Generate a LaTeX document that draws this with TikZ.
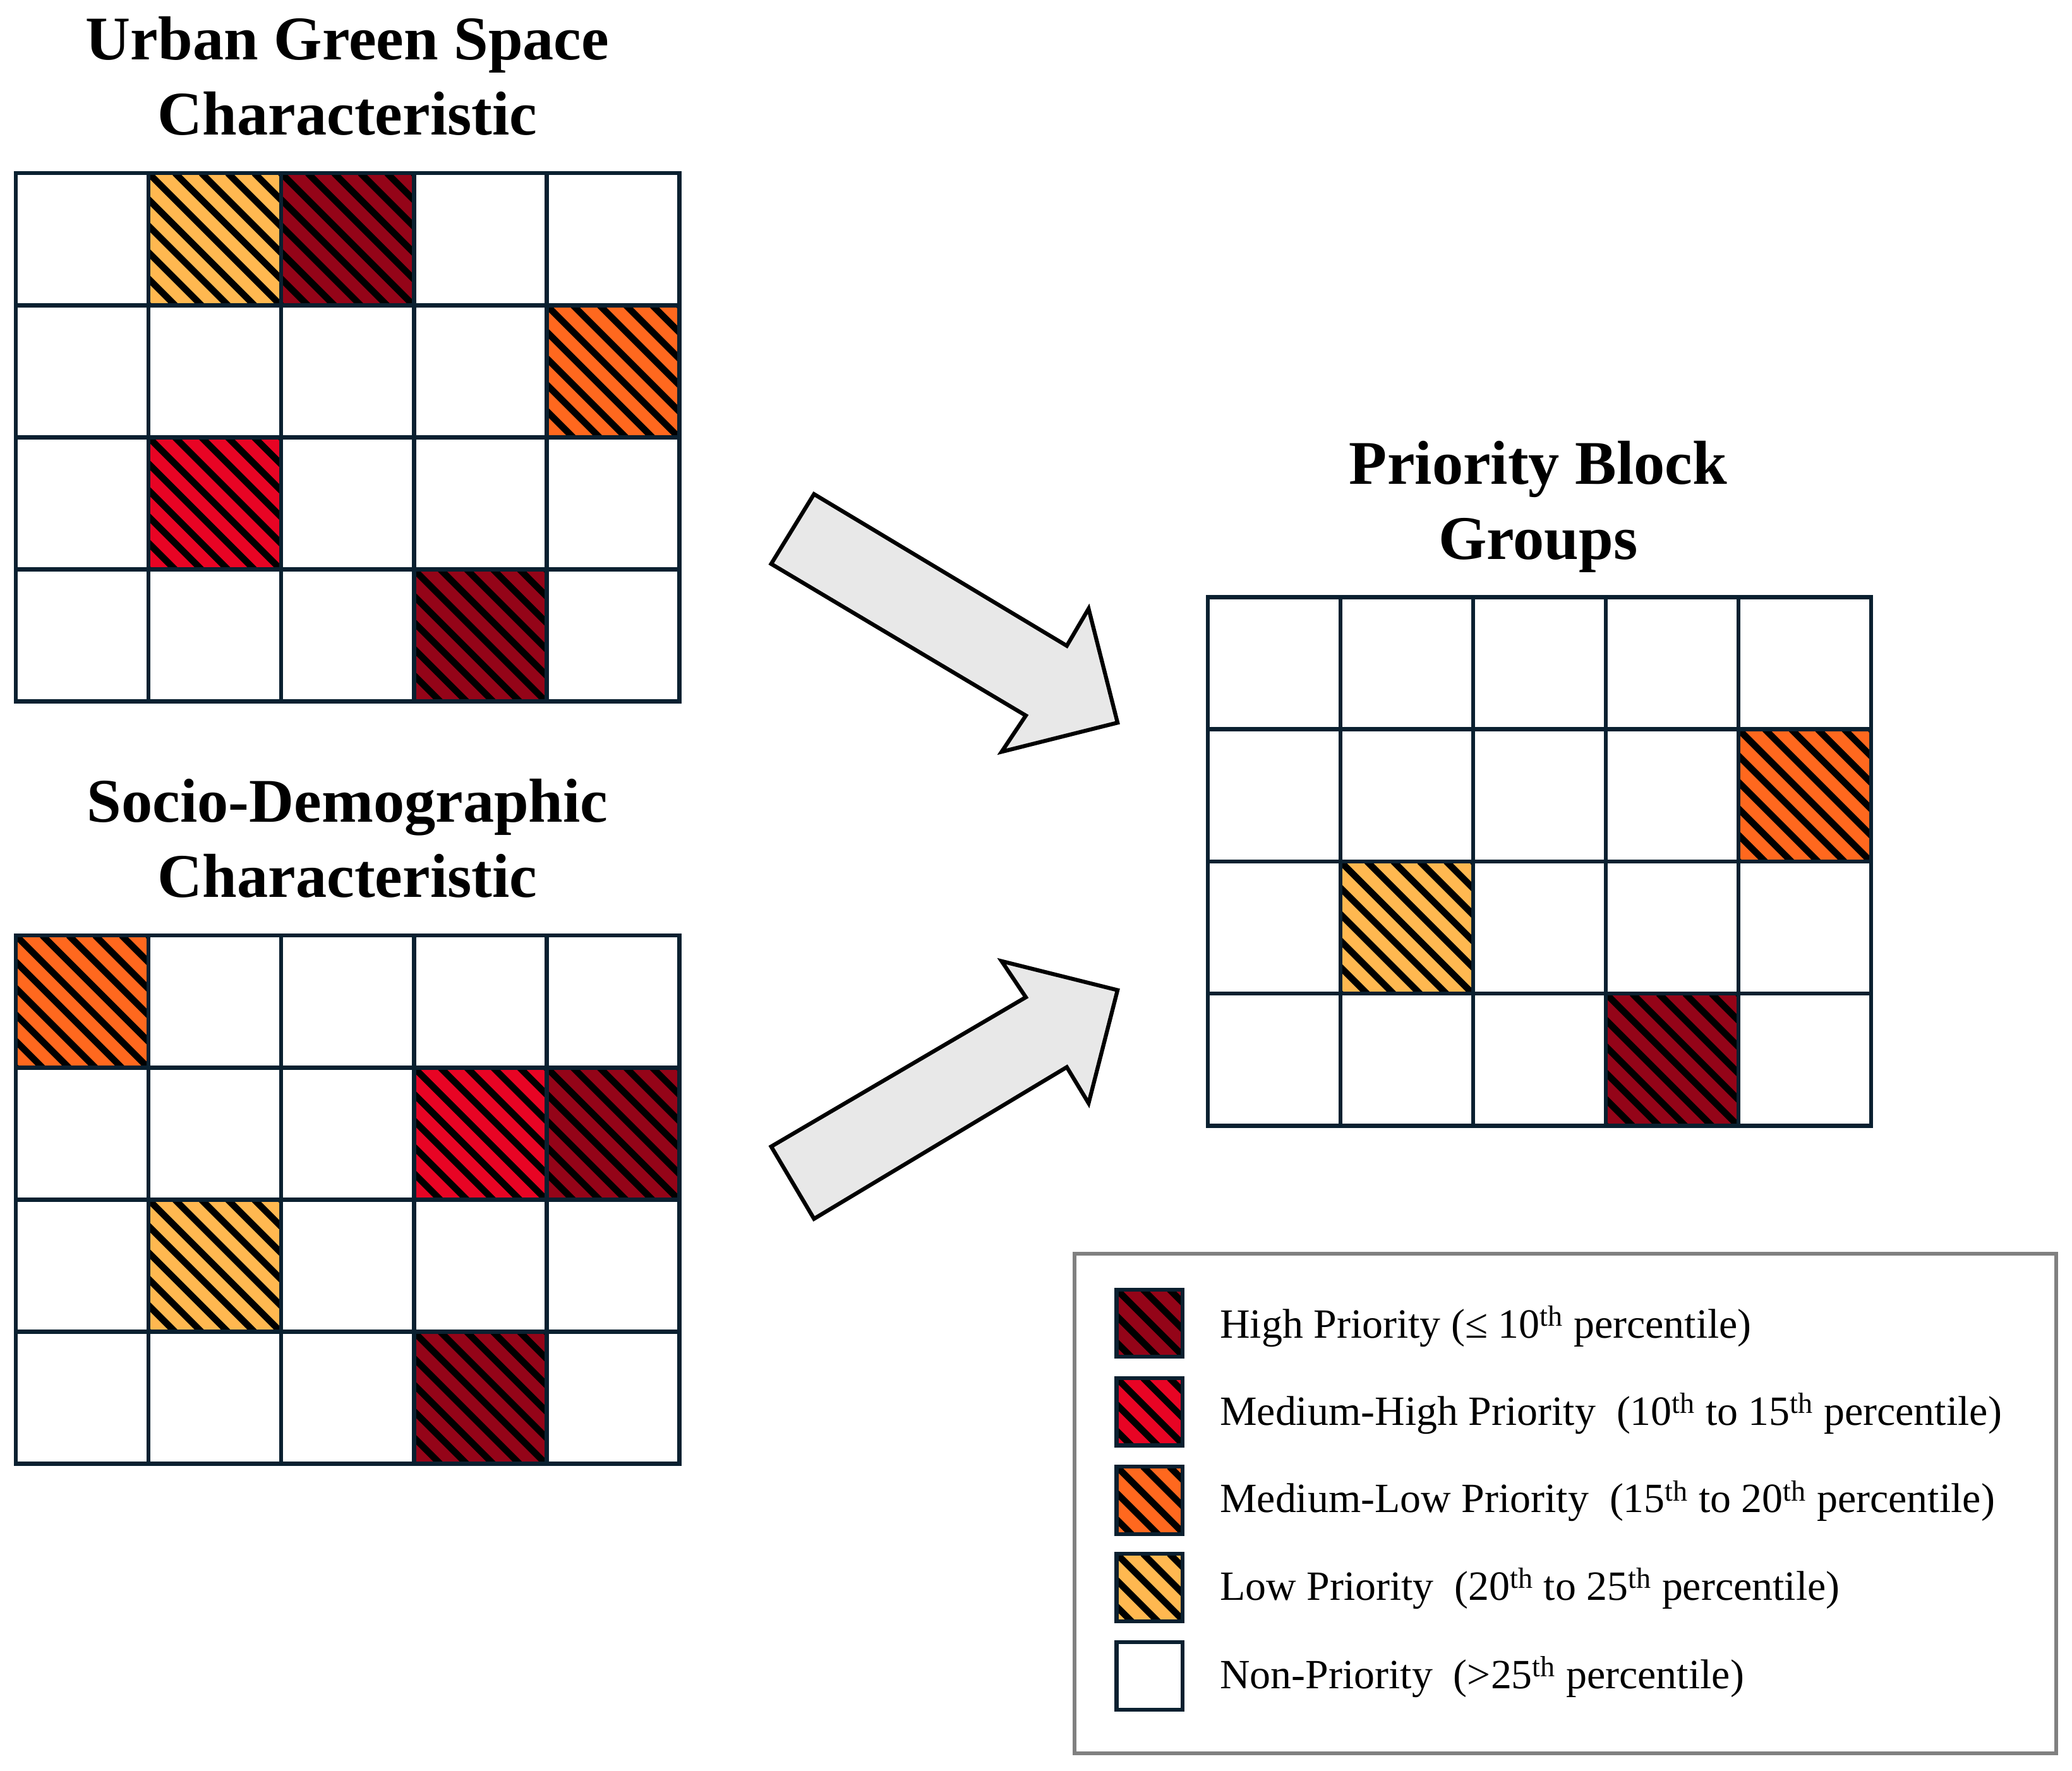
\documentclass[tikz,border=0pt]{standalone}
\usepackage{fontspec}
\setmainfont{Liberation Serif}
\definecolor{hiP}{RGB}{148,4,24}
\definecolor{mhP}{RGB}{232,4,36}
\definecolor{mlP}{RGB}{255,104,30}
\definecolor{loP}{RGB}{255,184,80}
\definecolor{gridc}{RGB}{10,32,48}
\definecolor{arrowfill}{RGB}{232,232,232}
\definecolor{legborder}{RGB}{128,128,128}
\newcommand\hatchbox[5]{%
  \begin{scope}
    \clip (#1,#2) rectangle ++(#3,#4);
    \fill[#5] (#1,#2) rectangle ++(#3,#4);
    \foreach \k in {-120,-100,...,120}
      \draw[line width=5pt,black] (#1+\k,#2) -- ++(120,120);
  \end{scope}}
\newcommand\blockgrid[2]{%
  \foreach \i in {1,...,4} \draw[gridline] (#1+\i*100.4,#2) -- ++(0,400);
  \foreach \j in {1,...,3} \draw[gridline] (#1,#2+\j*100) -- ++(502,0);
  \draw[gridline] (#1,#2) rectangle ++(502,400);}
\tikzset{
  gridline/.style={draw=gridc,line width=3.2pt},
  titletext/.style={font=\bfseries\fontsize{47}{57}\selectfont,align=center,inner sep=0pt},
  legtext/.style={font=\fontsize{31.5}{38}\selectfont,anchor=base west,inner sep=0pt},
  bigarrow/.style={draw=black,fill=arrowfill,line width=3pt,line join=miter},
  swatch/.style={draw=gridc,line width=3pt}
}
\begin{document}
\begin{tikzpicture}[x=1pt,y=-1pt]
\useasboundingbox (0,0) rectangle (1568,1340);
% ---------- titles
\node[titletext] (t1) at (263,57.5) {Urban Green Space\\Characteristic};
\node[titletext] (t2) at (263,634.5) {Socio-Demographic\\Characteristic};
\node[titletext] (t3) at (1164,383.5) {Priority Block\\Groups};
% ---------- grid A
\hatchbox{12+1*100.4}{131}{100.4}{100}{loP}
\hatchbox{12+2*100.4}{131}{100.4}{100}{hiP}
\hatchbox{12+4*100.4}{231}{100.4}{100}{mlP}
\hatchbox{12+1*100.4}{331}{100.4}{100}{mhP}
\hatchbox{12+3*100.4}{431}{100.4}{100}{hiP}
\blockgrid{12}{131}
% ---------- grid B
\hatchbox{12}{708}{100.4}{100}{mlP}
\hatchbox{12+3*100.4}{808}{100.4}{100}{mhP}
\hatchbox{12+4*100.4}{808}{100.4}{100}{hiP}
\hatchbox{12+1*100.4}{908}{100.4}{100}{loP}
\hatchbox{12+3*100.4}{1008}{100.4}{100}{hiP}
\blockgrid{12}{708}
% ---------- grid C
\hatchbox{914+4*100.4}{552}{100.4}{100}{mlP}
\hatchbox{914+1*100.4}{652}{100.4}{100}{loP}
\hatchbox{914+3*100.4}{752}{100.4}{100}{hiP}
\blockgrid{914}{452}
% ---------- arrows
\draw[bigarrow] (616,374) -- (807.3,488.8) -- (823.8,460.7) -- (845.7,547)
  -- (758,569) -- (776.3,541.6) -- (583.6,426.8) -- cycle;
\draw[bigarrow] (616,922.5) -- (807.3,807.7) -- (823.8,835) -- (845.7,749.4)
  -- (758,727.5) -- (776.3,754.8) -- (583.6,867.8) -- cycle;
% ---------- legend
\draw[draw=legborder,line width=3pt] (813,949) rectangle (1556,1327);
\hatchbox{845}{976}{50}{51}{hiP}
\draw[swatch] (845,976) rectangle ++(50,51);
\hatchbox{845}{1043}{50}{51}{mhP}
\draw[swatch] (845,1043) rectangle ++(50,51);
\hatchbox{845}{1110}{50}{51}{mlP}
\draw[swatch] (845,1110) rectangle ++(50,51);
\hatchbox{845}{1176}{50}{51}{loP}
\draw[swatch] (845,1176) rectangle ++(50,51);
\draw[swatch,fill=white] (845,1243) rectangle ++(50,51);
\node[legtext] (l1) at (923,1012.6) {High Priority (≤ 10\textsuperscript{th} percentile)};
\node[legtext] (l2) at (923,1078.7) {Medium-High Priority\ \ (10\textsuperscript{th} to 15\textsuperscript{th} percentile)};
\node[legtext] (l3) at (923,1144.9) {Medium-Low Priority\ \ (15\textsuperscript{th} to 20\textsuperscript{th} percentile)};
\node[legtext] (l4) at (923,1211) {Low Priority\ \ (20\textsuperscript{th} to 25\textsuperscript{th} percentile)};
\node[legtext] (l5) at (923,1278) {Non-Priority\ \ (>25\textsuperscript{th} percentile)};
\end{tikzpicture}
\end{document}
